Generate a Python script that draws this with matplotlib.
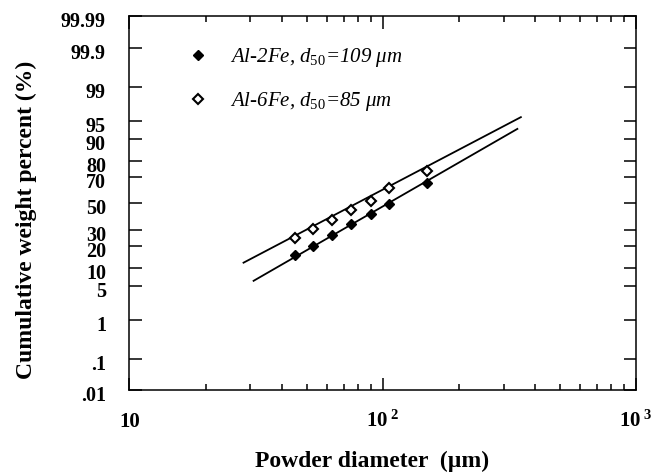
import numpy as np
import matplotlib
matplotlib.use("Agg")
import matplotlib.pyplot as plt
import matplotlib.transforms as mtransforms
from matplotlib.ticker import FixedLocator, LogLocator, NullFormatter
from statistics import NormalDist

plt.rcParams["font.family"] = ["Liberation Serif", "DejaVu Serif"]
plt.rcParams["mathtext.fontset"] = "custom"
plt.rcParams["mathtext.rm"] = "Liberation Serif"
plt.rcParams["mathtext.it"] = "Liberation Serif:italic"
plt.rcParams["mathtext.bf"] = "Liberation Serif:bold"

# sieve sizes (um) and cumulative weight percent
diam = [45, 53, 63, 75, 90, 106, 150]
al2fe = [15.3, 19.9, 26.8, 34.2, 41.5, 49.8, 65.6]
al6fe = [24.4, 30.6, 37.1, 44.6, 51.7, 62.3, 74.1]

# fitted lines, end points
fit2_d = [30.9, 340]
fit2_p = [6.2, 93.1]
fit6_d = [28.2, 351]
fit6_p = [11.95, 95.7]

yticks = [0.01, 0.1, 1, 5, 10, 20, 30, 50, 70, 80, 90, 95, 99, 99.9, 99.99]
ylabels = [".01", ".1", "1", "5", "10", "20", "30", "50", "70", "80", "90", "95", "99", "99.9", "99.99"]
xticks = [10, 100, 1000]
xlabels = ["10", r"$\mathbf{10}^{\ \mathbf{2}}$", r"$\mathbf{10}^{\ \mathbf{3}}$"]

nd = NormalDist()
_ppf = np.vectorize(nd.inv_cdf, otypes=[float])
_cdf = np.vectorize(nd.cdf, otypes=[float])


def prob_fwd(p):
    p = np.clip(np.asarray(p, dtype=float) / 100.0, 1e-9, 1 - 1e-9)
    return _ppf(p)


def prob_inv(z):
    return _cdf(np.asarray(z, dtype=float)) * 100.0


fig = plt.figure(figsize=(6.58, 4.72), dpi=100)
ax = fig.add_axes([0.1968, 0.1727, 0.7698, 0.7924])

ax.set_xscale("log")
ax.set_yscale("function", functions=(prob_fwd, prob_inv))

ax.plot(fit2_d, fit2_p, color="black", lw=1.3)
ax.plot(fit6_d, fit6_p, color="black", lw=1.3)
ax.plot(diam, al2fe, "D", color="black", ms=5.5, ls="none",
        label="Al-2Fe, $d_{50}$=109 μm")
ax.plot(diam, al6fe, "D", mfc="white", mec="black", mew=1.5, ms=5, ls="none",
        label="Al-6Fe, $d_{50}$=85 μm")

ax.set_xlim(10, 1000)
ax.set_ylim(0.01, 99.99)

ax.yaxis.set_major_locator(FixedLocator(yticks))
ax.set_yticklabels(ylabels)
ax.yaxis.set_minor_locator(FixedLocator([]))
ax.xaxis.set_major_locator(FixedLocator(xticks))
ax.set_xticklabels(xlabels)
ax.xaxis.set_minor_locator(LogLocator(base=10, subs=np.arange(2, 10)))
ax.xaxis.set_minor_formatter(NullFormatter())

ax.tick_params(axis="both", which="both", direction="in", top=True, right=True, width=1.1)
ax.tick_params(axis="y", which="major", length=9, pad=17, labelsize=14.5)
ax.tick_params(axis="x", which="major", length=9, pad=26, labelsize=15)
ax.tick_params(axis="x", which="minor", length=4.5)
for lab in ax.get_yticklabels():
    lab.set_fontweight("bold")
    lab.set_transform(lab.get_transform() + mtransforms.ScaledTranslation(0, -3.5 / 100, fig.dpi_scale_trans))
for lab in ax.get_xticklabels():
    lab.set_fontweight("bold")
    lab.set_va("baseline")

for s in ax.spines.values():
    s.set_linewidth(1.1)

ax.set_xlabel("Powder diameter  (\u00b5m)", fontsize=17, fontweight="bold")
ax.xaxis.set_label_coords(0.479, -0.19)
ax.xaxis.label.set_va("center")
ax.set_ylabel("Cumulative weight percent (%)", fontsize=17, fontweight="bold")
ax.yaxis.set_label_coords(-0.203, 0.456)
ax.yaxis.label.set_va("center")

leg = ax.legend(loc="upper left", bbox_to_anchor=(0.1155, 0.92), frameon=False,
                handlelength=1.0, handletextpad=1.0, labelspacing=1.0,
                borderpad=0, borderaxespad=0, prop={"size": 15, "style": "italic"})

fig.savefig("out.png", dpi=100)
